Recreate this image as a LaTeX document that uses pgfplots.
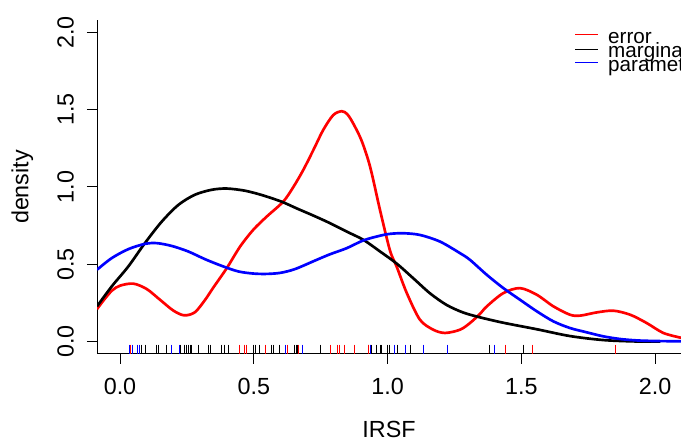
\documentclass[border=0pt]{standalone}
\usepackage{fontspec}
\setmainfont{Liberation Sans}
\usepackage{pgfplots}
\pgfplotsset{compat=1.18}

\begin{document}
\begin{tikzpicture}
% picture is 681 x 441 px, 1 px = 0.75pt
\useasboundingbox (0,0) rectangle (510.75pt,330.75pt);
\begin{scope}
\clip (0,0) rectangle (510.75pt,330.75pt);
\begin{axis}[
    at={(72.75pt,65.25pt)}, anchor=south west,
    scale only axis,
    width=438pt, height=250.5pt,
    xmin=-0.086, xmax=2.097,
    ymin=-0.08, ymax=2.08,
    axis lines*=left,
    axis line style={-, line width=0.75pt},
    tick align=outside,
    major tick length=7.5pt,
    tick style={black, line width=0.75pt},
    xtick={0,0.5,1,1.5,2},
    ytick={0,0.5,1,1.5,2},
    xticklabels={0.0,0.5,1.0,1.5,2.0},
    yticklabels={0.0,0.5,1.0,1.5,2.0},
    tick label style={font=\fontsize{17.5}{17.5}\selectfont},
    xticklabel style={anchor=north, inner sep=0pt, yshift=-10.5pt},
    yticklabel style={xshift=-9.75pt, rotate=90, anchor=south, inner sep=0pt},
    xlabel={IRSF},
    ylabel={density},
    label style={font=\fontsize{17.5}{17.5}\selectfont},
    xlabel style={at={(axis description cs:0.5,-0.249)}, anchor=base, inner sep=0pt},
    ylabel style={at={(axis description cs:-0.1173,0.5)}, anchor=base, inner sep=0pt},
]
% error
\addplot[red, line width=2pt, smooth] coordinates {
    (-0.086,0.21)(-0.06,0.27)(-0.03,0.33)(0.0,0.362)(0.05,0.375)(0.1,0.34)
    (0.15,0.27)(0.2,0.20)(0.24,0.17)(0.28,0.19)(0.318,0.27)(0.349,0.35)
    (0.399,0.475)(0.449,0.615)(0.498,0.723)(0.548,0.808)(0.61,0.905)
    (0.648,1.0)(0.685,1.11)(0.723,1.24)(0.76,1.37)(0.797,1.465)(0.829,1.49)
    (0.85,1.47)(0.872,1.41)(0.903,1.30)(0.935,1.13)(0.972,0.85)(1.009,0.59)
    (1.034,0.486)(1.072,0.314)(1.121,0.142)(1.171,0.077)(1.215,0.056)
    (1.271,0.077)(1.308,0.12)(1.346,0.18)(1.371,0.228)(1.433,0.314)
    (1.495,0.346)(1.558,0.303)(1.62,0.228)(1.682,0.174)(1.72,0.168)
    (1.782,0.189)(1.844,0.20)(1.907,0.174)(1.969,0.12)(2.031,0.056)(2.097,0.025)
};
% marginal
\addplot[black, line width=2pt, smooth] coordinates {
    (-0.086,0.228)(-0.031,0.357)(0.031,0.486)(0.093,0.637)(0.156,0.776)
    (0.218,0.884)(0.28,0.95)(0.343,0.982)(0.399,0.99)(0.467,0.976)(0.53,0.948)
    (0.604,0.905)(0.66,0.862)(0.723,0.815)(0.785,0.766)(0.847,0.712)
    (0.91,0.658)(0.972,0.583)(1.034,0.505)(1.096,0.41)(1.159,0.312)
    (1.221,0.237)(1.283,0.188)(1.346,0.157)(1.433,0.122)(1.558,0.08)
    (1.682,0.036)(1.807,0.01)(1.93,0.001)(2.02,0.0)
};
% parametric
\addplot[blue, line width=2pt, smooth] coordinates {
    (-0.086,0.465)(-0.031,0.54)(0.031,0.598)(0.093,0.632)(0.137,0.637)
    (0.193,0.619)(0.255,0.583)(0.318,0.533)(0.38,0.49)(0.442,0.454)(0.5,0.44)
    (0.55,0.438)(0.6,0.445)(0.654,0.469)(0.73,0.525)(0.785,0.565)(0.847,0.604)
    (0.91,0.655)(0.972,0.685)(1.009,0.697)(1.059,0.701)(1.121,0.69)
    (1.196,0.647)(1.271,0.572)(1.308,0.529)(1.371,0.432)(1.433,0.346)
    (1.495,0.271)(1.558,0.196)(1.62,0.131)(1.682,0.088)(1.745,0.06)
    (1.807,0.034)(1.869,0.017)(1.93,0.008)(2.0,0.004)(2.097,0.002)
};
% rugs
\addplot[black, only marks, mark=|, mark size=3.4pt, mark options={line width=0.75pt}] coordinates {
    (0.081,-0.048)(0.097,-0.048)(0.135,-0.048)(0.143,-0.048)(0.172,-0.048)
    (0.227,-0.048)(0.240,-0.048)(0.247,-0.048)(0.255,-0.048)(0.262,-0.048)
    (0.268,-0.048)(0.293,-0.048)(0.330,-0.048)(0.339,-0.048)(0.380,-0.048)
    (0.390,-0.048)(0.405,-0.048)(0.498,-0.048)(0.505,-0.048)(0.523,-0.048)
    (0.567,-0.048)(0.573,-0.048)(0.595,-0.048)(0.652,-0.048)(0.658,-0.048)
    (0.663,-0.048)(0.750,-0.048)(0.928,-0.048)(0.941,-0.048)(0.957,-0.048)
    (0.975,-0.048)(0.978,-0.048)(0.999,-0.048)(1.009,-0.048)(1.038,-0.048)
    (1.087,-0.048)(1.383,-0.048)(1.508,-0.048)
};
\addplot[red, only marks, mark=|, mark size=3.4pt, mark options={line width=0.75pt}] coordinates {
    (0.040,-0.048)(0.445,-0.048)(0.465,-0.048)(0.471,-0.048)(0.542,-0.048)
    (0.625,-0.048)(0.667,-0.048)(0.788,-0.048)(0.812,-0.048)(0.820,-0.048)
    (0.841,-0.048)(0.875,-0.048)(0.930,-0.048)(0.935,-0.048)(1.442,-0.048)
    (1.543,-0.048)(1.852,-0.048)
};
\addplot[blue, only marks, mark=|, mark size=3.4pt, mark options={line width=0.75pt}] coordinates {
    (0.035,-0.048)(0.045,-0.048)(0.066,-0.048)(0.072,-0.048)(0.191,-0.048)
    (0.222,-0.048)(0.617,-0.048)(0.683,-0.048)(0.938,-0.048)(1.025,-0.048)
    (1.069,-0.048)(1.134,-0.048)(1.225,-0.048)(1.399,-0.048)
};
% legend (R style, top right)
\addplot[red, line width=0.75pt] coordinates {(1.701,1.986)(1.787,1.986)};
\addplot[black, line width=0.75pt] coordinates {(1.701,1.892)(1.787,1.892)};
\addplot[blue, line width=0.75pt] coordinates {(1.701,1.802)(1.787,1.802)};
\node[anchor=base west, inner sep=0pt, font=\fontsize{15.5}{15.5}\selectfont] at (axis cs:1.824,1.929) {error};
\node[anchor=base west, inner sep=0pt, font=\fontsize{15.5}{15.5}\selectfont] at (axis cs:1.824,1.837) {marginal};
\node[anchor=base west, inner sep=0pt, font=\fontsize{15.5}{15.5}\selectfont] at (axis cs:1.824,1.745) {parametric};
\end{axis}
\end{scope}
\end{tikzpicture}
\end{document}
